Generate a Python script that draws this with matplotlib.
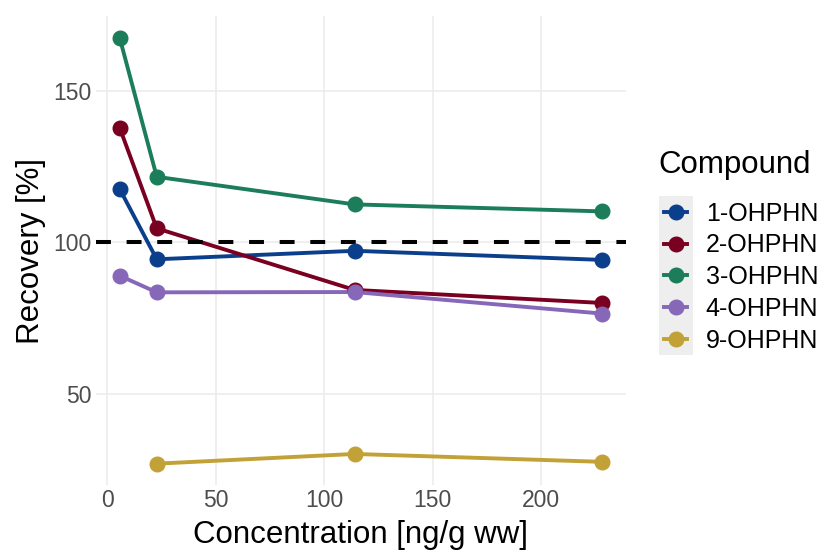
import numpy as np
import matplotlib.pyplot as plt
from matplotlib.patches import Rectangle
from matplotlib.lines import Line2D

plt.rcParams['font.family'] = ['Liberation Sans', 'DejaVu Sans']

# spiked concentrations and mean recoveries per compound
conc = [5.7, 22.8, 114, 228]
compounds = ["1-OHPHN", "2-OHPHN", "3-OHPHN", "4-OHPHN", "9-OHPHN"]
rec_1 = [117.6, 94.4, 97.2, 94.2]
rec_2 = [137.8, 104.6, 84.3, 80.0]
rec_3 = [167.5, 121.6, 112.5, 110.2]
rec_4 = [89.0, 83.5, 83.6, 76.5]
rec_9 = [np.nan, 27.0, 30.2, 27.6]
recoveries = [rec_1, rec_2, rec_3, rec_4, rec_9]
colors = ["#0B3F8B", "#7A0021", "#1B7D59", "#8667B8", "#C2A137"]

W, H = 821, 551
fig = plt.figure(figsize=(W / 100, H / 100), dpi=100)
ax = fig.add_axes([0.1164, 0.12, 0.7625 - 0.1164, 0.9702 - 0.12])

LW, MS = 2.8, 10.5
for vals, col in zip(recoveries, colors):
    x = np.array(conc)
    y = np.array(vals)
    ok = ~np.isnan(y)
    ax.plot(x[ok], y[ok], color=col, lw=LW, zorder=2, solid_capstyle='butt')

ax.axhline(100, color='black', lw=2.9, ls=(0, (3.7, 3.9)), zorder=2.5)

for vals, col in zip(recoveries, colors):
    ax.plot(conc, vals, ls='none', marker='o', ms=MS, color=col, zorder=3)

ax.set_xlim(-5.4, 239.1)
ax.set_ylim(20, 174.5)
ax.set_xticks([0, 50, 100, 150, 200])
ax.set_yticks([50, 100, 150])
ax.grid(True, color='#EBEBEB', lw=1.1)
ax.set_axisbelow(True)
for s in ax.spines.values():
    s.set_visible(False)
ax.tick_params(length=0, labelsize=16.5, labelcolor='#4D4D4D', pad=3)
ax.set_xlabel("Concentration [ng/g ww]", fontsize=22.5, labelpad=6)
ax.set_ylabel("Recovery [%]", fontsize=22.5, labelpad=5)

# legend: title as separate text so it sits flush with the key column
fig.text(658 / W, 1 - 165 / H, "Compound", fontsize=22.5, ha='left', va='center')
handles = [Line2D([], [], color=c, lw=LW, marker='o', ms=MS) for c in colors]
leg = fig.legend(handles, compounds, loc='upper left',
                 bbox_to_anchor=(0.788, 0.666), frameon=False,
                 fontsize=18, handlelength=0.9,
                 handletextpad=0.75, labelspacing=0.31, borderpad=0.2)

# grey background behind the legend keys
fig.canvas.draw()
boxes = [h.get_window_extent() for h in leg.legend_handles]
xc = 0.5 * (boxes[0].x0 + boxes[0].x1)
yc = [0.5 * (b.y0 + b.y1) for b in boxes]
step = (max(yc) - min(yc)) / (len(yc) - 1)
x0, x1 = xc - 17, xc + 17
y0, y1 = min(yc) - step / 2, max(yc) + step / 2
fig.patches.append(Rectangle((x0 / W, y0 / H), (x1 - x0) / W, (y1 - y0) / H,
                             transform=fig.transFigure, facecolor='#EEEEEE',
                             edgecolor='none', zorder=0))

fig.savefig("out.png", dpi=100)
